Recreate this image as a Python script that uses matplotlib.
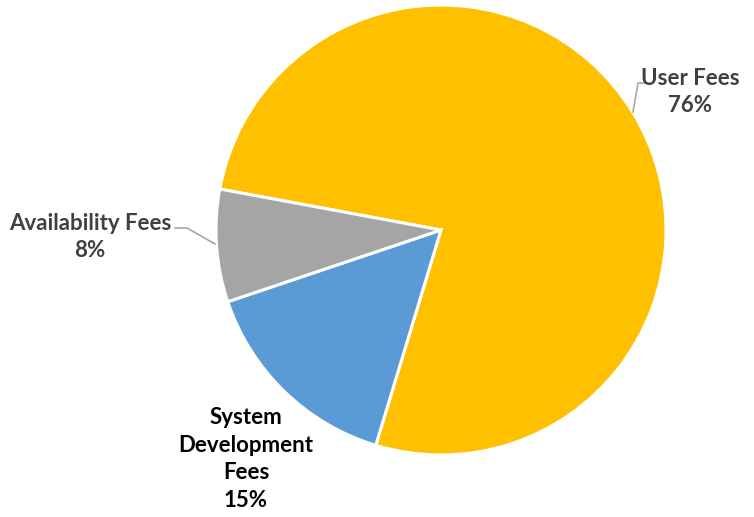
import matplotlib
matplotlib.use("Agg")
import matplotlib.pyplot as plt

# Revenue split by source
categories = ["User Fees", "System\nDevelopment\nFees", "Availability Fees"]
shares = [76, 15, 8]
colors = ["#FFC000", "#5B9BD5", "#A5A5A5"]

W, H = 754, 517
fig = plt.figure(figsize=(W / 100, H / 100), dpi=100)
ax = fig.add_axes([0, 0, 1, 1])

cx, cy, r = 441, H - 230, 225
ax.pie(shares, colors=colors, startangle=169.5, counterclock=False,
       center=(cx, cy), radius=r,
       wedgeprops=dict(edgecolor="white", linewidth=2.2))
ax.set_xlim(0, W)
ax.set_ylim(0, H)
ax.set_aspect("equal")
ax.axis("off")

font = dict(family=["Lato", "DejaVu Sans"], fontsize=16, fontweight="bold")
lead = "#A6A6A6"
ls = 1.38

# User Fees label with leader
ax.text(690, H - 92, f"{categories[0]}\n{shares[0]}%", ha="center", va="center",
        color="#404040", linespacing=ls, **font)
ax.plot([633, 638, 650], [H - 112, H - 83, H - 83], color=lead, lw=1.2)

# System Development label
ax.text(246, H - 459, f"{categories[1]}\n{shares[1]}%", ha="center", va="center",
        color="#000000", linespacing=ls, **font)

# Availability Fees label with leader
ax.text(90, H - 237, f"{categories[2]}\n{shares[2]}%", ha="center", va="center",
        color="#404040", linespacing=ls, **font)
ax.plot([215, 187, 175], [H - 244, H - 228, H - 228], color=lead, lw=1.2)

fig.savefig("out.png", dpi=100)
